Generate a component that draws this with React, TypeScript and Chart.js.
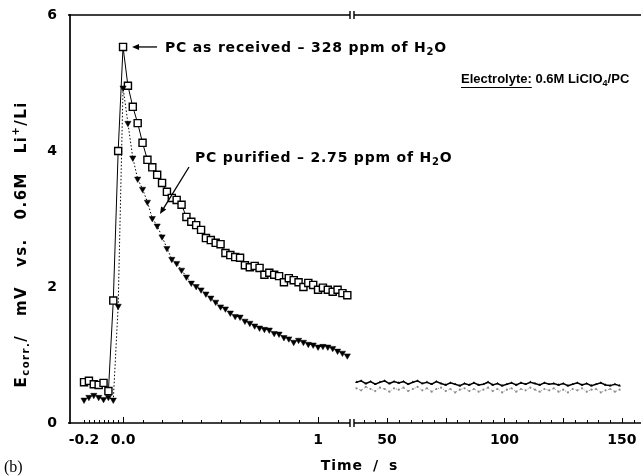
import React, { useEffect, useRef } from "react";
import { Chart, registerables } from "chart.js";

Chart.register(...registerables);

// Early transient (s), sampled every 25 ms around the current step
const timeShort = [
  -0.2, -0.175, -0.15, -0.125, -0.1, -0.075, -0.05, -0.025, 0, 0.025, 0.05,
  0.075, 0.1, 0.125, 0.15, 0.175, 0.2, 0.225, 0.25, 0.275, 0.3, 0.325, 0.35,
  0.375, 0.4, 0.425, 0.45, 0.475, 0.5, 0.525, 0.55, 0.575, 0.6, 0.625, 0.65,
  0.675, 0.7, 0.725, 0.75, 0.775, 0.8, 0.825, 0.85, 0.875, 0.9, 0.925, 0.95,
  0.975, 1.0, 1.025, 1.05, 1.075, 1.1, 1.125, 1.15,
];

// E_corr (mV), PC as received (328 ppm H2O)
const asReceivedShort = [
  0.6, 0.62, 0.57, 0.56, 0.59, 0.47, 1.8, 4.0, 5.53, 4.96, 4.65, 4.41, 4.12,
  3.87, 3.76, 3.65, 3.53, 3.4, 3.31, 3.28, 3.21, 3.03, 2.96, 2.91, 2.84, 2.72,
  2.69, 2.65, 2.63, 2.5, 2.47, 2.44, 2.43, 2.32, 2.29, 2.31, 2.28, 2.18, 2.21,
  2.18, 2.16, 2.07, 2.13, 2.1, 2.07, 2.0, 2.06, 2.03, 1.96, 1.99, 1.96, 1.93,
  1.96, 1.91, 1.88,
];

// E_corr (mV), PC purified (2.75 ppm H2O)
const purifiedShort = [
  0.34, 0.38, 0.41, 0.38, 0.35, 0.38, 0.34, 1.72, 4.93, 4.41, 3.9, 3.59, 3.44,
  3.25, 3.01, 2.9, 2.74, 2.57, 2.41, 2.35, 2.25, 2.15, 2.06, 2.01, 1.96, 1.9,
  1.84, 1.78, 1.71, 1.68, 1.62, 1.57, 1.56, 1.5, 1.47, 1.43, 1.4, 1.38, 1.37,
  1.32, 1.31, 1.26, 1.24, 1.19, 1.22, 1.19, 1.16, 1.15, 1.12, 1.13, 1.12, 1.1,
  1.06, 1.03, 0.99,
];

// Long-time relaxation (s)
const timeLong = [
  37, 39, 41, 43, 45, 47, 49, 51, 53, 55, 57, 59, 61, 63, 65, 67, 69, 71, 73,
  75, 77, 79, 81, 83, 85, 87, 89, 91, 93, 95, 97, 99, 101, 103, 105, 107, 109,
  111, 113, 115, 117, 119, 121, 123, 125, 127, 129, 131, 133, 135, 137, 139,
  141, 143, 145, 147, 149,
];

const asReceivedLong = [
  0.6, 0.62, 0.58, 0.61, 0.57, 0.6, 0.62, 0.58, 0.61, 0.59, 0.61, 0.57, 0.6,
  0.62, 0.58, 0.6, 0.57, 0.61, 0.58, 0.56, 0.59, 0.57, 0.55, 0.58, 0.56, 0.59,
  0.56, 0.57, 0.6, 0.56, 0.58, 0.55, 0.57, 0.59, 0.56, 0.59, 0.57, 0.6, 0.58,
  0.56, 0.59, 0.57, 0.58, 0.56, 0.58, 0.55, 0.57, 0.59, 0.56, 0.58, 0.55, 0.57,
  0.59, 0.56, 0.55, 0.57, 0.55,
];

const purifiedLong = [
  0.51, 0.48, 0.53, 0.5, 0.47, 0.52, 0.5, 0.46, 0.51, 0.49, 0.52, 0.47, 0.5,
  0.53, 0.48, 0.51, 0.46, 0.5, 0.52, 0.47, 0.5, 0.45, 0.49, 0.51, 0.47, 0.5,
  0.46, 0.49, 0.52, 0.47, 0.5, 0.45, 0.49, 0.51, 0.46, 0.5, 0.48, 0.52, 0.49,
  0.46, 0.5, 0.48, 0.51, 0.46, 0.49, 0.45, 0.5, 0.48, 0.51, 0.46, 0.49, 0.5,
  0.45, 0.48, 0.5, 0.46, 0.49,
];

const shortTicks = [-0.2, 0, 1];
const shortTickLabels = ["-0.2", "0.0", "1"];
const longTicks = [50, 100, 150];
const longTickLabels = ["50", "100", "150"];

const SANS = "'DejaVu Sans'";
const NARROW = "'Liberation Sans'";

type Seg = { t: string; size: number; dy?: number };

function richWidth(
  ctx: CanvasRenderingContext2D,
  segs: Seg[],
  family: string,
  ls: number,
  ws: number
) {
  let w = 0;
  for (const s of segs) {
    ctx.font = `bold ${s.size}px ${family}`;
    for (const ch of s.t) {
      w += ctx.measureText(ch).width + ls + (ch === " " ? ws : 0);
    }
  }
  return w - ls;
}

function drawRich(
  ctx: CanvasRenderingContext2D,
  segs: Seg[],
  x: number,
  y: number,
  family: string,
  ls: number,
  ws: number,
  align: "left" | "center"
) {
  const w = richWidth(ctx, segs, family, ls, ws);
  let cx = align === "center" ? x - w / 2 : x;
  const start = cx;
  ctx.textAlign = "left";
  ctx.textBaseline = "alphabetic";
  for (const s of segs) {
    ctx.font = `bold ${s.size}px ${family}`;
    for (const ch of s.t) {
      ctx.fillText(ch, cx, y + (s.dy || 0));
      cx += ctx.measureText(ch).width + ls + (ch === " " ? ws : 0);
    }
  }
  return { start, end: start + w };
}

function arrow(
  ctx: CanvasRenderingContext2D,
  x0: number,
  y0: number,
  x1: number,
  y1: number
) {
  const ang = Math.atan2(y1 - y0, x1 - x0);
  const len = 7;
  const half = 3;
  const bx = x1 - Math.cos(ang) * len;
  const by = y1 - Math.sin(ang) * len;
  ctx.beginPath();
  ctx.moveTo(x0, y0);
  ctx.lineTo(bx, by);
  ctx.stroke();
  ctx.beginPath();
  ctx.moveTo(x1, y1);
  ctx.lineTo(bx - Math.sin(ang) * half, by + Math.cos(ang) * half);
  ctx.lineTo(bx + Math.sin(ang) * half, by - Math.cos(ang) * half);
  ctx.closePath();
  ctx.fill();
}

const decorPlugin = {
  id: "decor",
  afterDatasetsDraw(chart: any) {
    const ctx: CanvasRenderingContext2D = chart.ctx;
    const { left, right, top, bottom } = chart.chartArea;
    const xs = chart.scales.xShort;
    const xl = chart.scales.xLong;
    const ys = chart.scales.y;
    const brk = xs.right;

    ctx.save();
    ctx.strokeStyle = "#000";
    ctx.fillStyle = "#000";
    ctx.lineCap = "butt";

    // axis frame with a scale break on the top and bottom lines
    ctx.lineWidth = 1.7;
    ctx.beginPath();
    ctx.moveTo(left, top - 1);
    ctx.lineTo(left, bottom + 1);
    for (const yy of [top, bottom]) {
      ctx.moveTo(left - 2, yy);
      ctx.lineTo(brk - 2, yy);
      ctx.moveTo(brk + 2, yy);
      ctx.lineTo(right, yy);
    }
    ctx.stroke();
    ctx.lineWidth = 1.4;
    ctx.beginPath();
    for (const yy of [top, bottom]) {
      ctx.moveTo(brk - 2, yy - 4);
      ctx.lineTo(brk - 2, yy + 4);
      ctx.moveTo(brk + 2, yy - 4);
      ctx.lineTo(brk + 2, yy + 4);
    }
    ctx.stroke();

    // inward tick marks on the time axis
    ctx.lineWidth = 1;
    ctx.beginPath();
    const tick = (px: number, h: number) => {
      ctx.moveTo(Math.round(px) + 0.5, bottom);
      ctx.lineTo(Math.round(px) + 0.5, bottom - h);
    };
    for (let i = 0; i <= 8; i++) tick(xs.getPixelForValue(-0.2 + i * 0.025), 3);
    for (let i = 1; i <= 11; i++) tick(xs.getPixelForValue(i * 0.1), i === 10 ? 6 : 3);
    tick(xs.getPixelForValue(0), 6);
    for (let v = 40; v <= 155; v += 5) tick(xl.getPixelForValue(v), v % 25 === 0 ? 5 : 3);
    ctx.stroke();

    // annotations
    const peakX = xs.getPixelForValue(0);
    const peakY = ys.getPixelForValue(asReceivedShort[8]);
    ctx.lineWidth = 1.3;
    arrow(ctx, peakX + 34, peakY, peakX + 9, peakY);
    drawRich(
      ctx,
      [
        { t: "PC as received – 328 ppm of H", size: 14 },
        { t: "2", size: 10, dy: 3 },
        { t: "O", size: 14 },
      ],
      peakX + 42,
      peakY + 5,
      SANS,
      0.8,
      0,
      "left"
    );

    const lab = drawRich(
      ctx,
      [
        { t: "PC purified – 2.75 ppm of H", size: 14 },
        { t: "2", size: 10, dy: 3 },
        { t: "O", size: 14 },
      ],
      195,
      162,
      SANS,
      0.8,
      0,
      "left"
    );
    arrow(ctx, lab.start - 6, 167, lab.start - 35, 214);

    const el = drawRich(ctx, [{ t: "Electrolyte:", size: 13 }], 461, 83, NARROW, 0, 0, "left");
    drawRich(
      ctx,
      [
        { t: " 0.6M LiClO", size: 13 },
        { t: "4", size: 9, dy: 3 },
        { t: "/PC", size: 13 },
      ],
      el.end,
      83,
      NARROW,
      0,
      0,
      "left"
    );
    ctx.lineWidth = 1.2;
    ctx.beginPath();
    ctx.moveTo(el.start, 87.5);
    ctx.lineTo(el.end, 87.5);
    ctx.stroke();

    // axis titles
    drawRich(ctx, [{ t: "Time / s", size: 14 }], 359, 470, SANS, 1, 4, "center");

    ctx.save();
    ctx.translate(20, 245);
    ctx.rotate(-Math.PI / 2);
    drawRich(
      ctx,
      [
        { t: "E", size: 15 },
        { t: "corr.", size: 10, dy: 3 },
        { t: "/ mV vs. 0.6M Li", size: 15 },
        { t: "+", size: 10, dy: -7 },
        { t: "/Li", size: 15 },
      ],
      0,
      5.5,
      SANS,
      1.5,
      12,
      "center"
    );
    ctx.restore();

    ctx.font = "16px 'Liberation Serif'";
    ctx.textAlign = "left";
    ctx.textBaseline = "alphabetic";
    ctx.fillText("(b)", 4, 472);

    ctx.restore();
  },
};

const pts = (xs: number[], ys: number[]) => xs.map((x, i) => ({ x, y: ys[i] }));

const tickFont = { family: SANS, size: 14, weight: "bold" as const };

// keep the plot frame fixed: no automatic label padding at the ends
const fixX = (s: any) => {
  s.height = 53;
  s.paddingLeft = 0;
  s.paddingRight = 0;
};

export default function App() {
  const canvasRef = useRef<HTMLCanvasElement | null>(null);

  useEffect(() => {
    const canvas = canvasRef.current;
    if (!canvas) return;
    const chart = new Chart(canvas, {
      type: "line",
      data: {
        datasets: [
          {
            label: "PC purified",
            data: pts(timeShort, purifiedShort),
            xAxisID: "xShort",
            borderColor: "#000",
            borderWidth: 1,
            borderDash: [1.5, 2],
            pointStyle: "triangle",
            rotation: 180,
            pointRadius: 3.6,
            pointBackgroundColor: "#000",
            pointBorderColor: "#000",
            pointBorderWidth: 0.5,
            tension: 0,
          } as any,
          {
            label: "PC as received",
            data: pts(timeShort, asReceivedShort),
            xAxisID: "xShort",
            borderColor: "#000",
            borderWidth: 1,
            pointStyle: "rect",
            pointRadius: 5,
            pointBackgroundColor: "#fff",
            pointBorderColor: "#000",
            pointBorderWidth: 1.4,
            tension: 0,
          },
          {
            label: "PC purified (long)",
            data: pts(timeLong, purifiedLong),
            xAxisID: "xLong",
            borderColor: "#8a8a8a",
            borderWidth: 1,
            borderDash: [1, 2],
            pointRadius: 1.1,
            pointBackgroundColor: "#8a8a8a",
            pointBorderWidth: 0,
            tension: 0,
          },
          {
            label: "PC as received (long)",
            data: pts(timeLong, asReceivedLong),
            xAxisID: "xLong",
            borderColor: "#000",
            borderWidth: 1.5,
            pointStyle: "triangle",
            pointRadius: 1.6,
            pointBackgroundColor: "#000",
            pointBorderWidth: 0,
            tension: 0,
          },
        ],
      },
      options: {
        animation: false,
        responsive: false,
        devicePixelRatio: 1,
        events: [],
        layout: { autoPadding: false, padding: { top: 15, right: 0, bottom: 0, left: 0 } },
        plugins: { legend: { display: false }, tooltip: { enabled: false } },
        scales: {
          xShort: {
            type: "linear",
            position: "bottom",
            stack: "time",
            stackWeight: 282,
            min: -0.272,
            max: 1.174,
            grid: { display: false, drawTicks: false },
            border: { display: false },
            afterBuildTicks: (s: any) => {
              s.ticks = shortTicks.map((v) => ({ value: v }));
            },
            afterFit: fixX,
            ticks: {
              autoSkip: false,
              maxRotation: 0,
              padding: 9,
              color: "#000",
              font: tickFont,
              callback: (_v: any, i: number) => shortTickLabels[i],
            },
          },
          xLong: {
            type: "linear",
            position: "bottom",
            stack: "time",
            stackWeight: 289,
            min: 35.1,
            max: 158.1,
            grid: { display: false, drawTicks: false },
            border: { display: false },
            afterBuildTicks: (s: any) => {
              s.ticks = longTicks.map((v) => ({ value: v }));
            },
            afterFit: fixX,
            ticks: {
              autoSkip: false,
              maxRotation: 0,
              padding: 9,
              color: "#000",
              font: tickFont,
              callback: (_v: any, i: number) => longTickLabels[i],
            },
          },
          y: {
            type: "linear",
            position: "left",
            min: 0,
            max: 6,
            grid: { display: false, drawTicks: false },
            border: { display: false },
            afterFit: (s: any) => {
              s.width = 70;
              s.paddingTop = 0;
              s.paddingBottom = 0;
            },
            ticks: { stepSize: 2, padding: 13, color: "#000", font: tickFont },
          },
        },
      } as any,
      plugins: [decorPlugin],
    });
    return () => chart.destroy();
  }, []);

  return (
    <div style={{ position: "absolute", left: 0, top: 0, width: 641, height: 476, background: "#fff" }}>
      <canvas ref={canvasRef} width={641} height={476} style={{ display: "block" }} />
    </div>
  );
}
